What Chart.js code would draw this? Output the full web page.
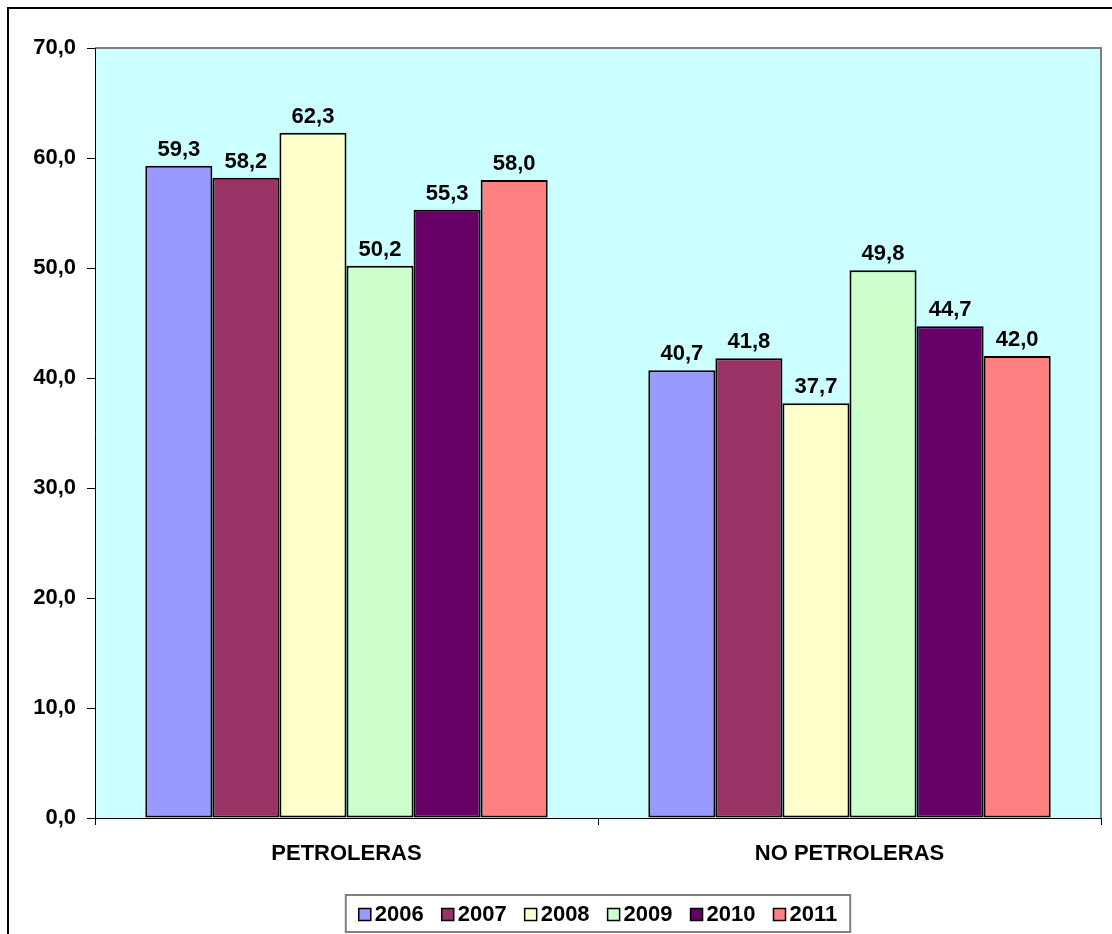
<!DOCTYPE html>
<html>
<head>
<meta charset="utf-8">
<script src="https://cdn.jsdelivr.net/npm/chart.js@4"></script>
<style>
  html, body { margin: 0; padding: 0; background: #fff; overflow: hidden; }
  canvas { display: block; }
</style>
</head>
<body>
<canvas id="exportChart" width="1112" height="934"></canvas>
<script>
// === data ===
const categories = ["PETROLERAS", "NO PETROLERAS"];
const years = ["2006", "2007", "2008", "2009", "2010", "2011"];
const values2006 = [59.3, 40.7];
const values2007 = [58.2, 41.8];
const values2008 = [62.3, 37.7];
const values2009 = [50.2, 49.8];
const values2010 = [55.3, 44.7];
const values2011 = [58.0, 42.0];
const yTicks = [0, 10, 20, 30, 40, 50, 60, 70];

const seriesValues = [values2006, values2007, values2008, values2009, values2010, values2011];
const seriesColors = ["#9999FF", "#993366", "#FFFFCC", "#CCFFCC", "#660066", "#FF8080"];

const FONT = '"Liberation Sans", Arial, sans-serif';
const fmt = v => v.toFixed(1).replace(".", ",");

// === helper plugins ===
// page frame, plot background and plot border
const framePlugin = {
    id: "frame",
    beforeDraw(chart) {
        const { ctx, chartArea: a } = chart;
        ctx.save();
        ctx.fillStyle = "#fff";
        ctx.fillRect(0, 0, chart.width, chart.height);
        ctx.strokeStyle = "#000";
        ctx.lineWidth = 2;
        ctx.strokeRect(8, 8, chart.width + 20, chart.height + 20);
        ctx.fillStyle = "#CCFFFF";
        ctx.fillRect(a.left, a.top, a.right - a.left, a.bottom - a.top);
        ctx.strokeStyle = "#808080";
        ctx.lineWidth = 2;
        ctx.beginPath();
        ctx.moveTo(a.left, a.top);
        ctx.lineTo(a.right, a.top);
        ctx.lineTo(a.right, a.bottom);
        ctx.stroke();
        ctx.restore();
    }
};

// value labels above bars
const valueLabelPlugin = {
    id: "valueLabels",
    afterDatasetsDraw(chart) {
        const ctx = chart.ctx;
        ctx.save();
        ctx.font = "bold 22px " + FONT;
        ctx.fillStyle = "#000";
        ctx.textAlign = "center";
        ctx.textBaseline = "bottom";
        chart.data.datasets.forEach((ds, i) => {
            chart.getDatasetMeta(i).data.forEach((bar, j) => {
                ctx.fillText(fmt(ds.data[j]), bar.x, bar.y - 5);
            });
        });
        ctx.restore();
    }
};

// boxed legend at the bottom (tight spacing like the original)
const boxLegendPlugin = {
    id: "boxLegend",
    afterDraw(chart) {
        const ctx = chart.ctx;
        const a = chart.chartArea;
        const sq = 12, gapText = 4, gapItem = 18, pad = 13;
        ctx.save();
        ctx.font = "bold 22px " + FONT;
        const items = chart.data.datasets.map(ds => ({
            label: ds.label,
            color: ds.backgroundColor,
            w: sq + gapText + ctx.measureText(ds.label).width
        }));
        const total = items.reduce((s, it) => s + it.w, 0) + gapItem * (items.length - 1);
        const cx = (a.left + a.right) / 2;
        const boxTop = 895, boxH = 37;
        const boxLeft = cx - total / 2 - pad;
        ctx.strokeStyle = "#808080";
        ctx.lineWidth = 2;
        ctx.strokeRect(boxLeft, boxTop, total + pad * 2, boxH);
        const midY = boxTop + boxH / 2 + 1;
        let x = cx - total / 2;
        items.forEach(it => {
            ctx.fillStyle = it.color;
            ctx.fillRect(x, midY - sq / 2, sq, sq);
            ctx.strokeStyle = "#000";
            ctx.lineWidth = 1.5;
            ctx.strokeRect(x, midY - sq / 2, sq, sq);
            ctx.fillStyle = "#000";
            ctx.textAlign = "left";
            ctx.textBaseline = "middle";
            ctx.fillText(it.label, x + sq + gapText, midY);
            x += it.w + gapItem;
        });
        ctx.restore();
    }
};

// === Chart.js config ===
const ctx = document.getElementById("exportChart").getContext("2d");

const chart = new Chart(ctx, {
    type: "bar",
    data: {
        labels: categories,
        datasets: years.map((yr, i) => ({
            label: yr,
            data: seriesValues[i],
            backgroundColor: seriesColors[i],
            borderColor: "#000",
            borderWidth: 2,
            borderSkipped: false,
            categoryPercentage: 0.8,
            barPercentage: 1.0
        }))
    },
    options: {
        responsive: false,
        animation: false,
        layout: { padding: { top: 48, left: 0, right: 11, bottom: 56 } },
        plugins: {
            legend: { display: false },
            tooltip: { enabled: false }
        },
        scales: {
            x: {
                grid: {
                    offset: true,
                    drawOnChartArea: false,
                    drawTicks: true,
                    tickLength: 7,
                    color: "#000"
                },
                border: { display: true, color: "#000", width: 1 },
                ticks: {
                    color: "#000",
                    padding: 16,
                    font: { family: FONT, size: 22, weight: "bold" }
                },
                afterFit: scale => { scale.height = 60; }
            },
            y: {
                min: 0,
                max: 70,
                afterBuildTicks: scale => { scale.ticks = yTicks.map(v => ({ value: v })); },
                grid: {
                    drawOnChartArea: false,
                    drawTicks: true,
                    tickLength: 8,
                    color: "#000"
                },
                border: { display: true, color: "#000", width: 1 },
                ticks: {
                    color: "#000",
                    padding: 11,
                    font: { family: FONT, size: 22, weight: "bold" },
                    callback: v => fmt(v)
                },
                afterFit: scale => { scale.width = 95; }
            }
        }
    },
    plugins: [framePlugin, valueLabelPlugin, boxLegendPlugin]
});
</script>
</body>
</html>
